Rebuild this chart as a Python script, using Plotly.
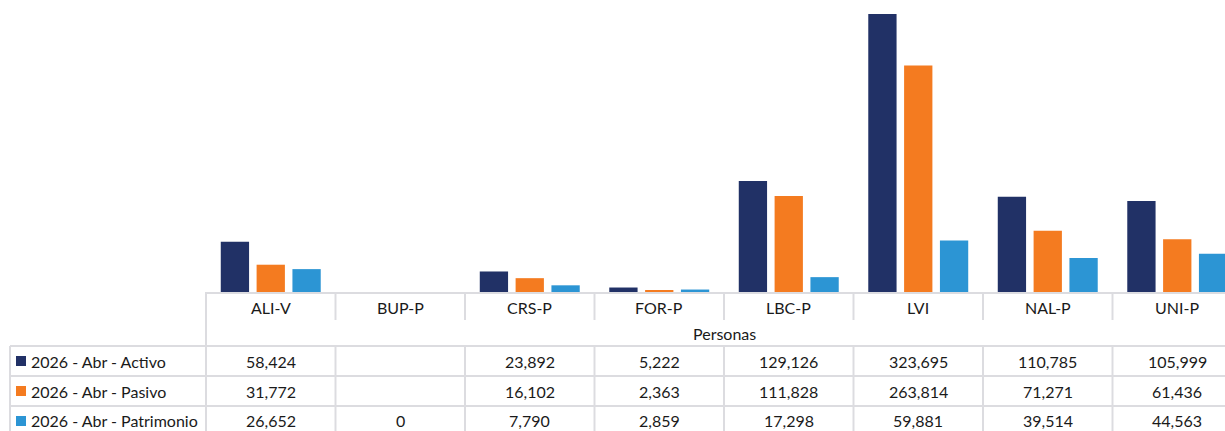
import plotly.graph_objects as go

# Datos
categorias = ["ALI-V", "BUP-P", "CRS-P", "FOR-P", "LBC-P", "LVI", "NAL-P", "UNI-P"]
series = ["2026 - Abr - Activo", "2026 - Abr - Pasivo", "2026 - Abr - Patrimonio"]
activo = [58424, None, 23892, 5222, 129126, 323695, 110785, 105999]
pasivo = [31772, None, 16102, 2363, 111828, 263814, 71271, 61436]
patrimonio = [26652, 0, 7790, 2859, 17298, 59881, 39514, 44563]
grupo = "Personas"

colores = ["#213166", "#F47B20", "#2C95D4"]
valores = [activo, pasivo, patrimonio]

W, H = 1225, 431
L, B = 206, 139          # margen izq / inferior en px
PLOT_H = H - B            # 292
PLOT_W = W - L            # 1019
COL_W = 129.5             # ancho de cada categoria en px
LINEA = "#DCDCE0"
TXT = "#1A1A1A"
FUENTE = "Lato"
FS = 16


def px_x(x):
    return (x - L) / PLOT_W


def px_y(y):
    return (PLOT_H - y) / PLOT_H


fig = go.Figure()
for nombre, vals, color in zip(series, valores, colores):
    fig.add_trace(go.Bar(
        x=categorias,
        y=vals,
        name=nombre,
        marker=dict(color=color, line=dict(width=0)),
    ))

shapes = []
annotations = []
fuente = dict(size=FS, color=TXT, family=FUENTE)

# linea vertical izquierda de la tabla (columna de categorias)
shapes.append(dict(type="line", xref="paper", yref="paper",
                   x0=px_x(206), x1=px_x(206), y0=px_y(292), y1=px_y(H + 5),
                   line=dict(color=LINEA, width=2)))
# separadores entre categorias
for i in range(len(categorias)):
    xb = i + 0.5
    shapes.append(dict(type="line", xref="x", yref="paper",
                       x0=xb, x1=xb, y0=px_y(292), y1=px_y(320),
                       line=dict(color=LINEA, width=2)))
    shapes.append(dict(type="line", xref="x", yref="paper",
                       x0=xb, x1=xb, y0=px_y(346), y1=px_y(H + 5),
                       line=dict(color=LINEA, width=2)))
# borde izquierdo de la leyenda
shapes.append(dict(type="line", xref="paper", yref="paper",
                   x0=px_x(10), x1=px_x(10), y0=px_y(346), y1=px_y(H + 5),
                   line=dict(color=LINEA, width=2)))
# lineas horizontales de filas
for yl in [346, 376, 406]:
    shapes.append(dict(type="line", xref="paper", yref="paper",
                       x0=px_x(10), x1=1, y0=px_y(yl), y1=px_y(yl),
                       line=dict(color=LINEA, width=2)))

# etiquetas de categorias
for c in categorias:
    annotations.append(dict(x=c, y=px_y(307), xref="x", yref="paper", text=c,
                            xanchor="center", yanchor="middle",
                            showarrow=False, font=fuente))
# etiqueta del grupo
annotations.append(dict(x=px_x(724), y=px_y(333), xref="paper", yref="paper", text=grupo,
                        xanchor="center", yanchor="middle",
                        showarrow=False, font=fuente))

# filas de datos
for r, (nombre, vals, color) in enumerate(zip(series, valores, colores)):
    yc = 361 + 30 * r
    shapes.append(dict(type="rect", xref="paper", yref="paper",
                       x0=px_x(16), x1=px_x(26), y0=px_y(yc - 5), y1=px_y(yc + 5),
                       fillcolor=color, line=dict(width=0)))
    annotations.append(dict(x=px_x(29), y=px_y(yc), xref="paper", yref="paper", text=nombre,
                            xanchor="left", yanchor="middle", showarrow=False, font=fuente))
    for c, v in zip(categorias, vals):
        if v is None:
            continue
        annotations.append(dict(x=c, y=px_y(yc), xref="x", yref="paper", text=f"{v:,}",
                                xanchor="center", yanchor="middle",
                                showarrow=False, font=fuente))

fig.update_layout(
    width=W, height=H,
    margin=dict(l=L, r=0, t=0, b=B, pad=0),
    paper_bgcolor="white", plot_bgcolor="white",
    barmode="group", bargap=0.17, bargroupgap=0.21,
    showlegend=False,
    shapes=shapes,
    annotations=annotations,
    font=dict(family=FUENTE, size=FS, color=TXT),
    xaxis=dict(range=[-0.5, -0.5 + PLOT_W / COL_W], showticklabels=False, ticks="",
               showgrid=False, zeroline=False, showline=True, linecolor=LINEA, linewidth=2,
               fixedrange=True),
    yaxis=dict(range=[0, 340000], visible=False, showgrid=False, zeroline=False,
               fixedrange=True),
)

fig.write_html("out.html", config={"displayModeBar": False},
               post_script="document.body.style.margin='0';document.body.style.overflow='hidden';")
